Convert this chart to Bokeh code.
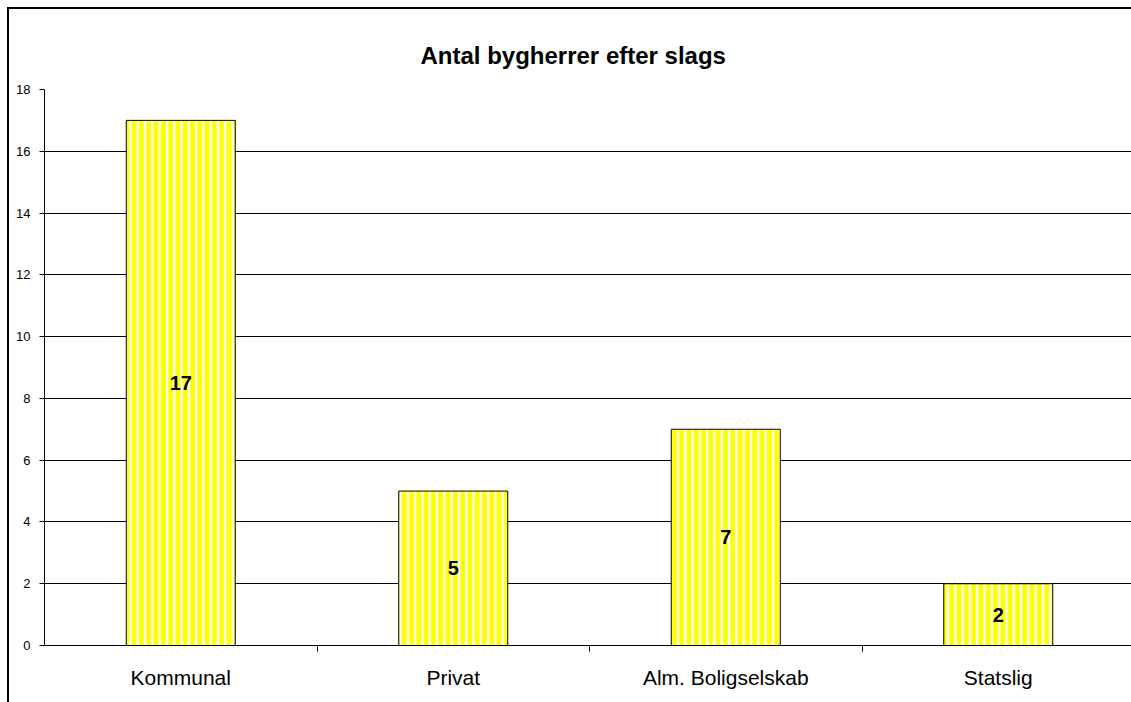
from bokeh.plotting import figure
from bokeh.models import Range1d, FixedTicker, LabelSet, ColumnDataSource
from bokeh.core.properties import value
from bokeh.embed import file_html
from bokeh.resources import INLINE

categories = ["Kommunal", "Privat", "Alm. Boligselskab", "Statslig"]
counts = [17, 5, 7, 2]
y_ticks = [0, 2, 4, 6, 8, 10, 12, 14, 16, 18]

xs = list(range(len(categories)))
src = ColumnDataSource(dict(
    x=xs, top=counts, mid=[c / 2 for c in counts], lab=[str(c) for c in counts]))

FONT = "Liberation Sans"

p = figure(width=1128, height=697, output_backend="svg", toolbar_location=None,
           x_range=Range1d(-0.5, 3.511), y_range=Range1d(0, 18),
           min_border_left=35, min_border_right=0, min_border_bottom=61, min_border_top=80,
           title="Antal bygherrer efter slags")
p.styles = {"margin-left": "9px", "margin-top": "9px",
            "box-shadow": "-2px -2px 0px 0px black"}

p.title.align = "left"
p.title.text_font = FONT
p.title.text_font_size = "24px"
p.title.text_font_style = "bold"
p.title.text_color = "black"
p.title.offset = 376
p.title.standoff = 41

p.outline_line_color = None
p.background_fill_color = "white"
p.border_fill_color = "white"

p.vbar(x="x", top="top", width=0.40, bottom=0, source=src,
       fill_color="#FFFF00", line_color="black", line_width=1,
       hatch_pattern="vertical_line", hatch_color="white",
       hatch_scale=7.3, hatch_weight=2.4)

labels = LabelSet(x="x", y="mid", text="lab", source=src,
                  text_align="center", text_baseline="middle",
                  text_font=value(FONT), text_font_size="20px",
                  text_font_style="bold", text_color="black")
p.add_layout(labels)

# y axis
p.yaxis.ticker = FixedTicker(ticks=y_ticks)
p.yaxis.axis_line_color = "black"
p.yaxis.major_tick_line_color = "black"
p.yaxis.major_tick_in = 0
p.yaxis.major_tick_out = 5
p.yaxis.minor_tick_line_color = None
p.yaxis.major_label_text_font = FONT
p.yaxis.major_label_text_font_size = "13px"
p.yaxis.major_label_text_color = "black"
p.yaxis.major_label_standoff = 9

# x axis
p.xaxis.ticker = FixedTicker(ticks=xs, minor_ticks=[0.5, 1.5, 2.5, 3.5])
p.xaxis.major_label_overrides = {i: c for i, c in enumerate(categories)}
p.xaxis.axis_line_color = "black"
p.xaxis.major_tick_line_color = None
p.xaxis.minor_tick_line_color = "black"
p.xaxis.minor_tick_in = 0
p.xaxis.minor_tick_out = 6
p.xaxis.major_label_text_font = FONT
p.xaxis.major_label_text_font_size = "21px"
p.xaxis.major_label_text_color = "black"
p.xaxis.major_label_standoff = 14

p.xgrid.grid_line_color = None
p.ygrid.ticker = FixedTicker(ticks=y_ticks)
p.ygrid.grid_line_color = "black"
p.ygrid.grid_line_width = 1

open("out.html", "w").write(file_html(p, INLINE))
